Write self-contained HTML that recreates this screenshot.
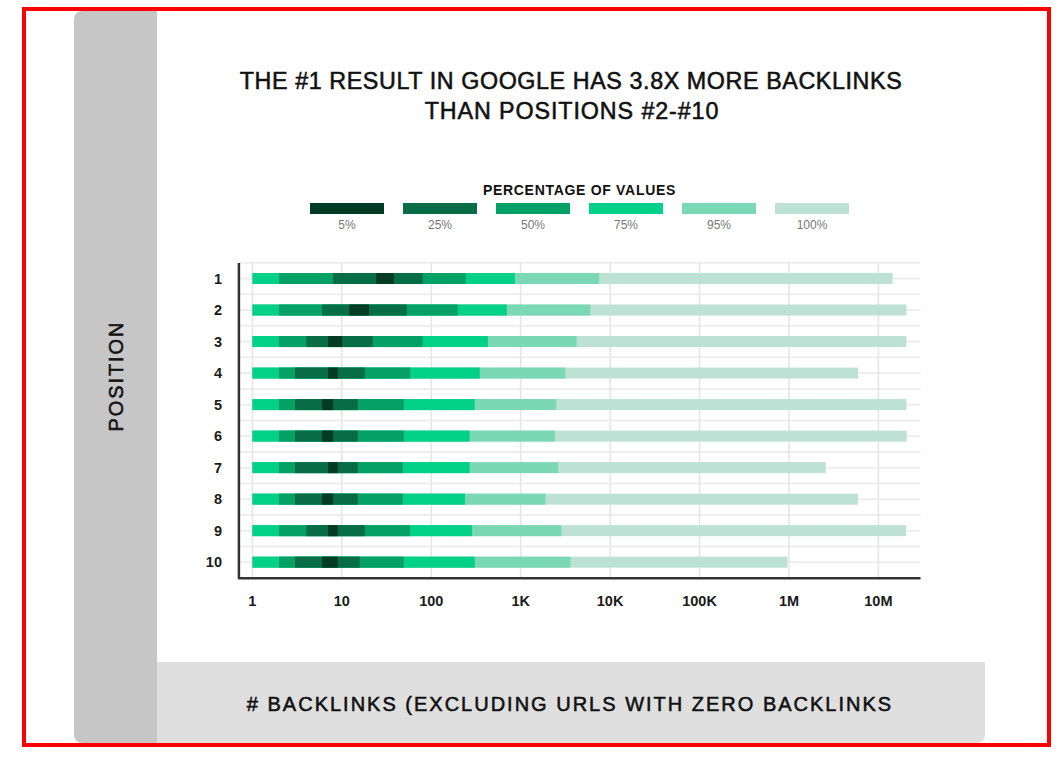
<!DOCTYPE html>
<html><head><meta charset="utf-8"><style>
html,body{margin:0;padding:0;background:#fff;}
body{width:1060px;height:758px;position:relative;overflow:hidden;font-family:"Liberation Sans",sans-serif;}
.frame{position:absolute;left:22px;top:7px;width:1021px;height:732px;border:4px solid #ff0000;}
.panel{position:absolute;left:74px;top:11px;width:911px;height:732px;border-radius:8px;background:#fff;overflow:hidden;}
.lcol{position:absolute;left:0;top:0;width:83px;height:732px;background:#c6c6c6;}
.bband{position:absolute;left:83px;top:651px;width:828px;height:81px;background:#dfdfdf;}
.t1,.t2{position:absolute;left:0;width:1142px;text-align:center;font-size:23.3px;color:#111;white-space:nowrap;-webkit-text-stroke:0.55px #111;}
.t1{top:68px;letter-spacing:0.59px;}
.t2{top:98px;letter-spacing:0.9px;padding-left:1px;}
.lt{position:absolute;left:0;width:1159px;text-align:center;top:182px;font-size:14px;font-weight:700;letter-spacing:0.7px;color:#111;white-space:nowrap;}
.sw{position:absolute;top:203px;width:74px;height:10.8px;}
.sl{position:absolute;top:218px;width:74px;text-align:center;font-size:12px;color:#777;}
.rl{position:absolute;left:161px;width:61px;text-align:right;font-size:14.5px;font-weight:700;color:#1a1a1a;line-height:16px;}
.xt{position:absolute;top:593px;width:60px;text-align:center;font-size:14.5px;font-weight:700;color:#1a1a1a;line-height:16px;}
.bt{position:absolute;left:0;width:1140px;text-align:center;top:692.5px;font-size:20px;letter-spacing:2px;-webkit-text-stroke:0.55px #111;color:#111;white-space:nowrap;}
.pos{position:absolute;left:116px;top:376px;font-size:20px;letter-spacing:1.9px;color:#111;-webkit-text-stroke:0.55px #111;white-space:nowrap;transform:translate(-50%,-50%) rotate(-90deg);}
svg{position:absolute;left:0;top:0;}
</style></head><body>
<div class="frame"></div>
<div class="panel"><div class="lcol"></div><div class="bband"></div></div>
<div class="t1">THE #1 RESULT IN GOOGLE HAS 3.8X MORE BACKLINKS</div>
<div class="t2">THAN POSITIONS #2-#10</div>
<div class="lt">PERCENTAGE OF VALUES</div>
<div class="sw" style="left:310px;background:#033c26"></div><div class="sl" style="left:310px">5%</div><div class="sw" style="left:403px;background:#066d46"></div><div class="sl" style="left:403px">25%</div><div class="sw" style="left:496px;background:#05a066"></div><div class="sl" style="left:496px">50%</div><div class="sw" style="left:589px;background:#03d089"></div><div class="sl" style="left:589px">75%</div><div class="sw" style="left:682px;background:#7bd8b7"></div><div class="sl" style="left:682px">95%</div><div class="sw" style="left:775px;background:#bde1d5"></div><div class="sl" style="left:775px">100%</div>
<svg width="1060" height="758" viewBox="0 0 1060 758">
<line x1="240" y1="262.80" x2="920.5" y2="262.80" stroke="#eeeeee" stroke-width="2"/><line x1="240" y1="278.56" x2="920.5" y2="278.56" stroke="#eeeeee" stroke-width="2"/><line x1="240" y1="294.32" x2="920.5" y2="294.32" stroke="#eeeeee" stroke-width="2"/><line x1="240" y1="310.08" x2="920.5" y2="310.08" stroke="#eeeeee" stroke-width="2"/><line x1="240" y1="325.84" x2="920.5" y2="325.84" stroke="#eeeeee" stroke-width="2"/><line x1="240" y1="341.60" x2="920.5" y2="341.60" stroke="#eeeeee" stroke-width="2"/><line x1="240" y1="357.36" x2="920.5" y2="357.36" stroke="#eeeeee" stroke-width="2"/><line x1="240" y1="373.12" x2="920.5" y2="373.12" stroke="#eeeeee" stroke-width="2"/><line x1="240" y1="388.88" x2="920.5" y2="388.88" stroke="#eeeeee" stroke-width="2"/><line x1="240" y1="404.64" x2="920.5" y2="404.64" stroke="#eeeeee" stroke-width="2"/><line x1="240" y1="420.40" x2="920.5" y2="420.40" stroke="#eeeeee" stroke-width="2"/><line x1="240" y1="436.16" x2="920.5" y2="436.16" stroke="#eeeeee" stroke-width="2"/><line x1="240" y1="451.92" x2="920.5" y2="451.92" stroke="#eeeeee" stroke-width="2"/><line x1="240" y1="467.68" x2="920.5" y2="467.68" stroke="#eeeeee" stroke-width="2"/><line x1="240" y1="483.44" x2="920.5" y2="483.44" stroke="#eeeeee" stroke-width="2"/><line x1="240" y1="499.20" x2="920.5" y2="499.20" stroke="#eeeeee" stroke-width="2"/><line x1="240" y1="514.96" x2="920.5" y2="514.96" stroke="#eeeeee" stroke-width="2"/><line x1="240" y1="530.72" x2="920.5" y2="530.72" stroke="#eeeeee" stroke-width="2"/><line x1="240" y1="546.48" x2="920.5" y2="546.48" stroke="#eeeeee" stroke-width="2"/><line x1="240" y1="562.24" x2="920.5" y2="562.24" stroke="#eeeeee" stroke-width="2"/><line x1="252.40" y1="262.80" x2="252.40" y2="577" stroke="#e6e6e6" stroke-width="1.6"/><line x1="341.83" y1="262.80" x2="341.83" y2="577" stroke="#e6e6e6" stroke-width="1.6"/><line x1="431.26" y1="262.80" x2="431.26" y2="577" stroke="#e6e6e6" stroke-width="1.6"/><line x1="520.69" y1="262.80" x2="520.69" y2="577" stroke="#e6e6e6" stroke-width="1.6"/><line x1="610.12" y1="262.80" x2="610.12" y2="577" stroke="#e6e6e6" stroke-width="1.6"/><line x1="699.55" y1="262.80" x2="699.55" y2="577" stroke="#e6e6e6" stroke-width="1.6"/><line x1="788.98" y1="262.80" x2="788.98" y2="577" stroke="#e6e6e6" stroke-width="1.6"/><line x1="878.41" y1="262.80" x2="878.41" y2="577" stroke="#e6e6e6" stroke-width="1.6"/><rect x="252.40" y="273.00" width="640.20" height="11" fill="#bde1d5"/><rect x="252.40" y="273.00" width="346.80" height="11" fill="#7bd8b7"/><rect x="252.40" y="273.00" width="262.50" height="11" fill="#03d089"/><rect x="279.00" y="273.00" width="186.80" height="11" fill="#05a066"/><rect x="333.10" y="273.00" width="89.60" height="11" fill="#066d46"/><rect x="376.10" y="273.00" width="17.90" height="11" fill="#033c26"/><rect x="252.40" y="304.52" width="654.00" height="11" fill="#bde1d5"/><rect x="252.40" y="304.52" width="337.80" height="11" fill="#7bd8b7"/><rect x="252.40" y="304.52" width="254.40" height="11" fill="#03d089"/><rect x="279.00" y="304.52" width="178.70" height="11" fill="#05a066"/><rect x="322.00" y="304.52" width="84.90" height="11" fill="#066d46"/><rect x="349.20" y="304.52" width="19.80" height="11" fill="#033c26"/><rect x="252.40" y="336.04" width="654.00" height="11" fill="#bde1d5"/><rect x="252.40" y="336.04" width="324.20" height="11" fill="#7bd8b7"/><rect x="252.40" y="336.04" width="235.50" height="11" fill="#03d089"/><rect x="279.00" y="336.04" width="143.70" height="11" fill="#05a066"/><rect x="306.30" y="336.04" width="66.40" height="11" fill="#066d46"/><rect x="328.00" y="336.04" width="14.20" height="11" fill="#033c26"/><rect x="252.40" y="367.56" width="605.80" height="11" fill="#bde1d5"/><rect x="252.40" y="367.56" width="312.90" height="11" fill="#7bd8b7"/><rect x="252.40" y="367.56" width="227.40" height="11" fill="#03d089"/><rect x="279.00" y="367.56" width="131.10" height="11" fill="#05a066"/><rect x="295.00" y="367.56" width="69.80" height="11" fill="#066d46"/><rect x="328.00" y="367.56" width="9.80" height="11" fill="#033c26"/><rect x="252.40" y="399.08" width="654.00" height="11" fill="#bde1d5"/><rect x="252.40" y="399.08" width="303.80" height="11" fill="#7bd8b7"/><rect x="252.40" y="399.08" width="222.30" height="11" fill="#03d089"/><rect x="279.00" y="399.08" width="124.90" height="11" fill="#05a066"/><rect x="295.00" y="399.08" width="62.80" height="11" fill="#066d46"/><rect x="322.00" y="399.08" width="11.10" height="11" fill="#033c26"/><rect x="252.40" y="430.60" width="654.30" height="11" fill="#bde1d5"/><rect x="252.40" y="430.60" width="302.50" height="11" fill="#7bd8b7"/><rect x="252.40" y="430.60" width="217.20" height="11" fill="#03d089"/><rect x="279.00" y="430.60" width="124.90" height="11" fill="#05a066"/><rect x="295.00" y="430.60" width="62.80" height="11" fill="#066d46"/><rect x="322.00" y="430.60" width="11.10" height="11" fill="#033c26"/><rect x="252.40" y="462.12" width="573.30" height="11" fill="#bde1d5"/><rect x="252.40" y="462.12" width="305.70" height="11" fill="#7bd8b7"/><rect x="252.40" y="462.12" width="217.20" height="11" fill="#03d089"/><rect x="279.00" y="462.12" width="123.70" height="11" fill="#05a066"/><rect x="295.00" y="462.12" width="62.80" height="11" fill="#066d46"/><rect x="328.00" y="462.12" width="9.80" height="11" fill="#033c26"/><rect x="252.40" y="493.64" width="605.60" height="11" fill="#bde1d5"/><rect x="252.40" y="493.64" width="293.10" height="11" fill="#7bd8b7"/><rect x="252.40" y="493.64" width="212.50" height="11" fill="#03d089"/><rect x="279.00" y="493.64" width="123.70" height="11" fill="#05a066"/><rect x="295.00" y="493.64" width="62.80" height="11" fill="#066d46"/><rect x="322.00" y="493.64" width="11.10" height="11" fill="#033c26"/><rect x="252.40" y="525.16" width="653.80" height="11" fill="#bde1d5"/><rect x="252.40" y="525.16" width="309.10" height="11" fill="#7bd8b7"/><rect x="252.40" y="525.16" width="219.70" height="11" fill="#03d089"/><rect x="279.00" y="525.16" width="131.00" height="11" fill="#05a066"/><rect x="306.30" y="525.16" width="58.50" height="11" fill="#066d46"/><rect x="328.00" y="525.16" width="9.80" height="11" fill="#033c26"/><rect x="252.40" y="556.68" width="535.00" height="11" fill="#bde1d5"/><rect x="252.40" y="556.68" width="318.00" height="11" fill="#7bd8b7"/><rect x="252.40" y="556.68" width="222.30" height="11" fill="#03d089"/><rect x="279.00" y="556.68" width="124.90" height="11" fill="#05a066"/><rect x="295.00" y="556.68" width="64.70" height="11" fill="#066d46"/><rect x="322.00" y="556.68" width="15.80" height="11" fill="#033c26"/><path d="M238.9 262.9 V578.2 H920.5" fill="none" stroke="#333" stroke-width="2.5" stroke-linejoin="round"/>
</svg>
<div class="rl" style="top:270.50px">1</div><div class="rl" style="top:302.02px">2</div><div class="rl" style="top:333.54px">3</div><div class="rl" style="top:365.06px">4</div><div class="rl" style="top:396.58px">5</div><div class="rl" style="top:428.10px">6</div><div class="rl" style="top:459.62px">7</div><div class="rl" style="top:491.14px">8</div><div class="rl" style="top:522.66px">9</div><div class="rl" style="top:554.18px">10</div>
<div class="xt" style="left:222.40px">1</div><div class="xt" style="left:311.83px">10</div><div class="xt" style="left:401.26px">100</div><div class="xt" style="left:490.69px">1K</div><div class="xt" style="left:580.12px">10K</div><div class="xt" style="left:669.55px">100K</div><div class="xt" style="left:758.98px">1M</div><div class="xt" style="left:848.41px">10M</div>
<div class="pos">POSITION</div>
<div class="bt"># BACKLINKS (EXCLUDING URLS WITH ZERO BACKLINKS</div>
</body></html>
